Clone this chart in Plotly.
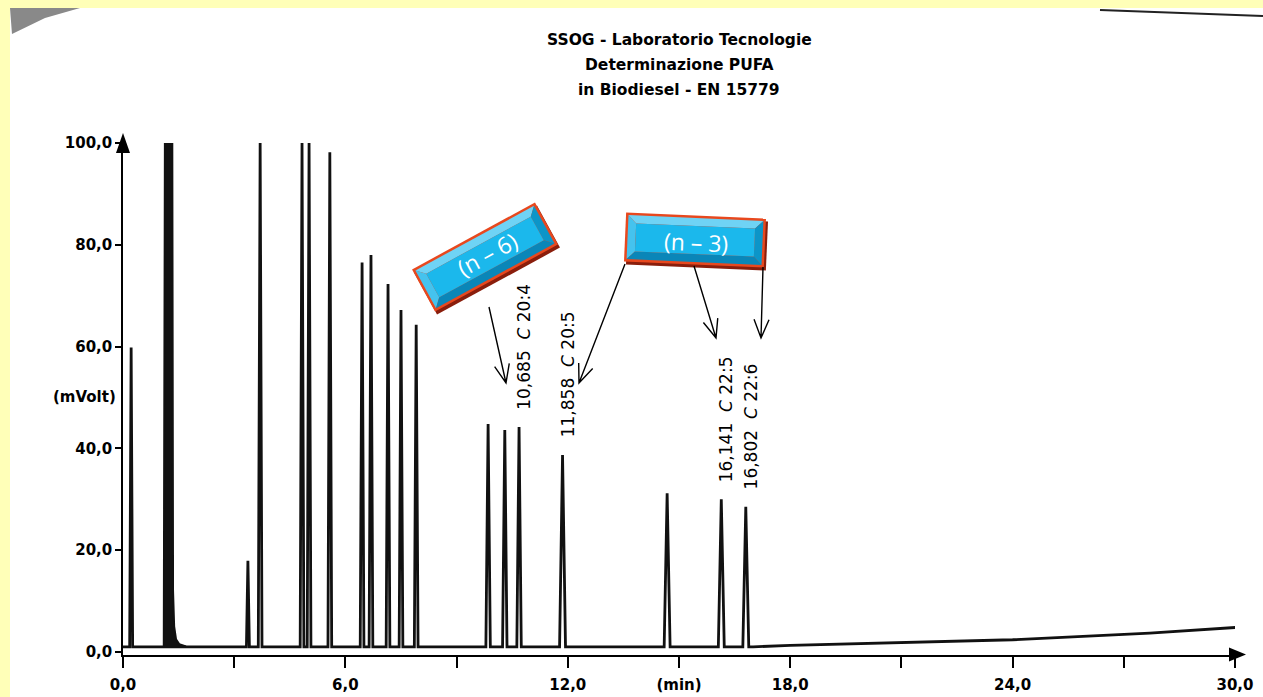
import numpy as np
import plotly.graph_objects as go

# ---------------- data ----------------
peak_times = [0.22, 3.37, 3.70, 4.83, 5.02, 5.58, 6.45, 6.69, 7.15, 7.50, 7.91,
              9.85, 10.30, 10.685, 11.858, 14.68, 16.141, 16.802]
peak_heights = [59.8, 17.9, 100.0, 100.0, 100.0, 98.2, 76.5, 78.0, 72.3, 67.2, 64.3,
                44.8, 43.6, 44.2, 38.7, 31.2, 30.0, 28.5]
peak_halfwidths = [0.04, 0.04, 0.05, 0.05, 0.05, 0.05, 0.05, 0.05, 0.05, 0.05, 0.05,
                   0.06, 0.06, 0.06, 0.08, 0.08, 0.08, 0.08]

baseline_times = [0.0, 17.0, 18.0, 21.0, 24.0, 27.7, 30.2]
baseline_values = [1.0, 1.0, 1.3, 1.8, 2.4, 3.7, 4.9]

solvent_times = [1.10, 1.13, 1.33, 1.35, 1.38, 1.43, 1.52, 1.70]
solvent_values = [1.0, 100.0, 100.0, 12.0, 5.0, 2.5, 1.5, 1.1]

label_times = [10.685, 11.858, 16.141, 16.802]
label_texts = ["10,685  <i>C</i> 20:4", "11,858  <i>C</i> 20:5",
               "16,141  <i>C</i> 22:5", "16,802  <i>C</i> 22:6"]

x_tickvals = [0, 3, 6, 9, 12, 15, 18, 21, 24, 27, 30]
x_ticktext = ["0,0", "", "6,0", "", "12,0", "(min)", "18,0", "", "24,0", "", "30,0"]
y_tickvals = [0, 20, 40, 60, 80, 100]
y_ticktext = ["0,0", "20,0", "40,0", "60,0", "80,0", "100,0"]

title_lines = ["SSOG - Laboratorio Tecnologie", "Determinazione PUFA", "in Biodiesel - EN 15779"]

# ---------------- geometry helpers ----------------
W, H = 1263, 697
def px(x):
    return x / W
def py(y):
    return 1 - y / H

X0_PX, X1_PX = 123, 1235
Y_BOT_PX, Y_TOP_PX = 654.5, 143

# ---------------- build trace vertices ----------------
pts = list(zip(baseline_times, baseline_values))
for t, h, w in zip(peak_times, peak_heights, peak_halfwidths):
    pts.append((t - w, float(np.interp(t - w, baseline_times, baseline_values))))
    pts.append((t, h))
    pts.append((t + w, float(np.interp(t + w, baseline_times, baseline_values))))
pts.sort(key=lambda p: p[0])
tx = [p[0] for p in pts]
ty = [p[1] for p in pts]

fig = go.Figure()
fig.add_trace(go.Scatter(x=tx, y=ty, mode="lines",
                         line=dict(color="#111111", width=2.8), hoverinfo="skip"))
fig.add_trace(go.Scatter(x=solvent_times, y=solvent_values, mode="lines", fill="toself",
                         fillcolor="#111111", line=dict(color="#111111", width=2),
                         hoverinfo="skip"))

# ---------------- shapes ----------------
shapes = []
shapes.append(dict(type="rect", xref="paper", yref="paper", x0=px(10), x1=1.0, y0=0.0, y1=py(8),
                   fillcolor="white", line=dict(width=0), layer="below"))
def poly(points, **kw):
    path = "M " + " L ".join(f"{px(a):.5f},{py(b):.5f}" for a, b in points) + " Z"
    d = dict(type="path", xref="paper", yref="paper", path=path)
    d.update(kw)
    return d
shapes.append(poly([(10, 8), (80, 8), (45, 18), (12, 34)], fillcolor="rgba(40,40,40,0.55)",
                   line=dict(width=0)))
shapes.append(dict(type="line", xref="paper", yref="paper", x0=px(1100), y0=py(10),
                   x1=px(1263), y1=py(16), line=dict(color="#222", width=2)))

# axis arrowheads
shapes.append(poly([(X0_PX, 133), (X0_PX - 7, 153), (X0_PX + 7, 153)], fillcolor="black",
                   line=dict(width=0)))
shapes.append(poly([(1246, Y_BOT_PX), (1229, Y_BOT_PX - 7), (1229, Y_BOT_PX + 7)],
                   fillcolor="black", line=dict(width=0)))
shapes.append(dict(type="line", xref="paper", yref="paper", x0=px(X1_PX), y0=py(Y_BOT_PX),
                   x1=px(1232), y1=py(Y_BOT_PX), line=dict(color="black", width=1.5)))

def box(cx, cy, L, Wd, ang):
    a = np.deg2rad(ang)
    eu = np.array([np.cos(a), np.sin(a)])
    ev = np.array([-np.sin(a), np.cos(a)])
    c = np.array([cx, cy])
    def P(u, v):
        p = c + u * eu + v * ev
        return (p[0], p[1])
    l, h = L / 2, Wd / 2
    out = []
    out.append(poly([(P(-l, -h)[0] + 2, P(-l, -h)[1] + 3), (P(l, -h)[0] + 2, P(l, -h)[1] + 3),
                     (P(l, h)[0] + 2, P(l, h)[1] + 3), (P(-l, h)[0] + 2, P(-l, h)[1] + 3)],
                    fillcolor="#8A1E0C", line=dict(width=0)))
    out.append(poly([P(-l, -h), P(l, -h), P(l, h), P(-l, h)], fillcolor="#E8481E",
                    line=dict(width=0)))
    l2, h2 = l - 2.5, h - 2.5
    b = 8
    li, hi = l2 - b, h2 - b
    out.append(poly([P(-l2, -h2), P(l2, -h2), P(li, -hi), P(-li, -hi)], fillcolor="#6FD3F5",
                    line=dict(width=0)))
    out.append(poly([P(-l2, -h2), P(-li, -hi), P(-li, hi), P(-l2, h2)], fillcolor="#45C3EE",
                    line=dict(width=0)))
    out.append(poly([P(l2, -h2), P(l2, h2), P(li, hi), P(li, -hi)], fillcolor="#0C95C8",
                    line=dict(width=0)))
    out.append(poly([P(-l2, h2), P(l2, h2), P(li, hi), P(-li, hi)], fillcolor="#0A86B8",
                    line=dict(width=0)))
    out.append(poly([P(-li, -hi), P(li, -hi), P(li, hi), P(-li, hi)], fillcolor="#1BB8EC",
                    line=dict(width=0)))
    return out

shapes += box(485, 257, 140, 48, -28.6)
shapes += box(695, 240, 140, 49, 2.5)

def arrow(x0, y0, x1, y1, head=20, half=22):
    d = np.array([x1 - x0, y1 - y0], dtype=float)
    d /= np.linalg.norm(d)
    segs = []
    for s in (1, -1):
        r = np.deg2rad(s * half)
        rot = np.array([[np.cos(r), -np.sin(r)], [np.sin(r), np.cos(r)]])
        back = rot @ (-d) * head
        segs.append((x1 + back[0], y1 + back[1]))
    path = (f"M {px(x0):.5f},{py(y0):.5f} L {px(x1):.5f},{py(y1):.5f} "
            f"M {px(segs[0][0]):.5f},{py(segs[0][1]):.5f} L {px(x1):.5f},{py(y1):.5f} "
            f"L {px(segs[1][0]):.5f},{py(segs[1][1]):.5f}")
    return dict(type="path", xref="paper", yref="paper", path=path,
                line=dict(color="black", width=1.4))

shapes.append(arrow(489, 307, 506, 383))
shapes.append(arrow(625, 264, 579, 383))
shapes.append(arrow(694, 266, 716, 338))
shapes.append(arrow(763, 267, 761, 338))

# ---------------- annotations ----------------
ann = []
for i, line in enumerate(title_lines):
    ann.append(dict(text=f"<b>{line}</b>", xref="paper", yref="paper", x=px(679), y=py(40 + 25 * i),
                    xanchor="center", yanchor="middle", showarrow=False,
                    font=dict(family="DejaVu Sans", size=15.5, color="black")))
ann.append(dict(text="<b>(mVolt)</b>", xref="paper", yref="paper", x=px(118), y=py(397),
                xanchor="right", yanchor="middle", showarrow=False,
                font=dict(family="DejaVu Sans", size=15, color="black")))
for t, txt in zip(label_times, label_texts):
    h = peak_heights[peak_times.index(t)]
    ann.append(dict(text=txt, x=t, y=h + 3, xref="x", yref="y", textangle=-90,
                    xanchor="center", yanchor="bottom", xshift=5, showarrow=False,
                    font=dict(family="DejaVu Sans", size=17, color="black")))
ann.append(dict(text="(n – 6)", xref="paper", yref="paper", x=px(487), y=py(254), textangle=-28.6,
                showarrow=False, xanchor="center", yanchor="middle",
                font=dict(family="Open Sans", size=23, color="white")))
ann.append(dict(text="(n – 3)", xref="paper", yref="paper", x=px(696), y=py(242), textangle=2.5,
                showarrow=False, xanchor="center", yanchor="middle",
                font=dict(family="Open Sans", size=23, color="white")))

fig.update_layout(
    width=W, height=H,
    margin=dict(l=0, r=0, t=0, b=0, pad=0, autoexpand=False),
    paper_bgcolor="#FFFFB8",
    plot_bgcolor="rgba(0,0,0,0)",
    showlegend=False,
    shapes=shapes,
    annotations=ann,
    xaxis=dict(range=[0, 30], domain=[px(X0_PX), px(X1_PX)], showline=True, linecolor="black",
               linewidth=1.5, ticks="outside", ticklen=12, tickwidth=1.5, tickcolor="black",
               tickvals=x_tickvals, ticktext=[f"<b>{s}</b>" if s else "" for s in x_ticktext],
               tickfont=dict(family="DejaVu Sans", size=15, color="black"),
               ticklabelstandoff=4, automargin=False,
               showgrid=False, zeroline=False, fixedrange=True),
    yaxis=dict(range=[-0.5, 100], domain=[py(Y_BOT_PX), py(Y_TOP_PX)], showline=True,
               linecolor="black", linewidth=1.5, ticks="outside", ticklen=6, tickwidth=1.5,
               tickcolor="black", tickvals=y_tickvals,
               ticktext=[f"<b>{s}</b>" for s in y_ticktext],
               tickfont=dict(family="DejaVu Sans", size=15, color="black"),
               automargin=False,
               showgrid=False, zeroline=False, fixedrange=True),
)

fig.write_html("out.html", config={"displayModeBar": False},
               post_script="document.body.style.margin='0';document.body.style.background='#FFFFB8';")
